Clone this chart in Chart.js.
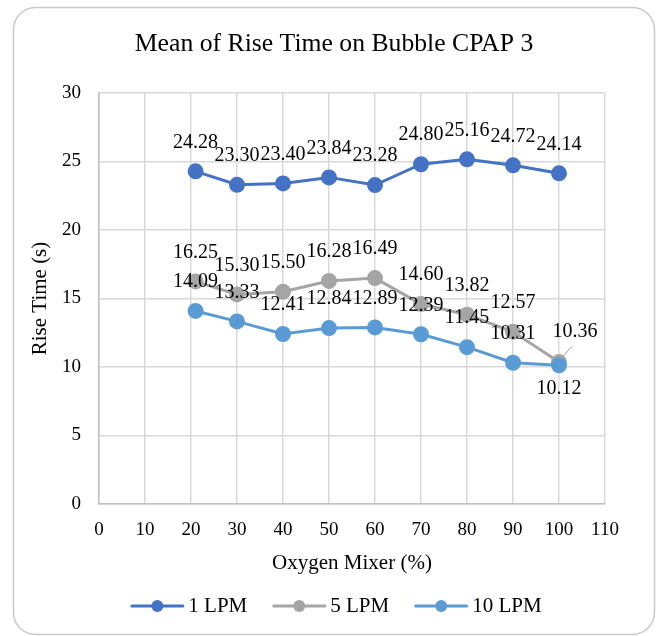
<!DOCTYPE html>
<html>
<head>
<meta charset="utf-8">
<script src="https://cdn.jsdelivr.net/npm/chart.js@4/dist/chart.umd.min.js"></script>
<style>
  html, body { margin: 0; padding: 0; background: #fff; }
  #wrap { width: 659px; height: 636px; }
</style>
</head>
<body>
<div id="wrap"><canvas id="c" width="659" height="636"></canvas></div>
<script>
// ---- data ----
const oxygenMixer = [21, 30, 40, 50, 60, 70, 80, 90, 100];
const lpm1  = [24.28, 23.30, 23.40, 23.84, 23.28, 24.80, 25.16, 24.72, 24.14];
const lpm5  = [16.25, 15.30, 15.50, 16.28, 16.49, 14.60, 13.82, 12.57, 10.36];
const lpm10 = [14.09, 13.33, 12.41, 12.84, 12.89, 12.39, 11.45, 10.31, 10.12];
const seriesNames = ['1 LPM', '5 LPM', '10 LPM'];
const xTicks = [0, 10, 20, 30, 40, 50, 60, 70, 80, 90, 100, 110];
const yTicks = [0, 5, 10, 15, 20, 25, 30];
const chartTitle = 'Mean of Rise Time on Bubble CPAP 3';

// ---- style ----
const colors = ['#4472C4', '#A5A5A5', '#5B9BD5'];
const FONT = "'Liberation Serif', 'Times New Roman', serif";
// special label placements (dataset index -> point index -> placement)
const labelPlacement = { 1: { 8: 'rightUp' }, 2: { 8: 'below' } };

const toXY = (arr) => arr.map((v, i) => ({ x: oxygenMixer[i], y: v }));
const seriesValues = [lpm1, lpm5, lpm10];

const datasets = seriesValues.map((vals, k) => ({
  label: seriesNames[k],
  data: toXY(vals),
  borderColor: colors[k],
  backgroundColor: colors[k],
  pointBackgroundColor: colors[k],
  pointBorderColor: colors[k],
  pointRadius: 6.5,
  pointHoverRadius: 6.5,
  borderWidth: 3,
  tension: 0,
  order: 2 - k
}));

const bgBorder = {
  id: 'bgBorder',
  beforeDraw(chart) {
    const ctx = chart.ctx;
    ctx.save();
    ctx.fillStyle = '#fff';
    ctx.fillRect(0, 0, chart.width, chart.height);
    ctx.strokeStyle = '#c9c9c9';
    ctx.lineWidth = 1.5;
    ctx.beginPath();
    ctx.roundRect(13.5, 7.5, 641, 627, 22);
    ctx.stroke();
    // chart title
    ctx.font = '25.7px ' + FONT;
    ctx.fillStyle = '#000';
    ctx.textAlign = 'center';
    ctx.textBaseline = 'middle';
    ctx.fillText(chartTitle, 334, 44);
    ctx.restore();
  }
};

const dataLabels = {
  id: 'dataLabels',
  afterDatasetsDraw(chart) {
    const ctx = chart.ctx;
    ctx.save();
    ctx.font = '20px ' + FONT;
    ctx.fillStyle = '#000';
    ctx.textAlign = 'center';
    ctx.textBaseline = 'middle';
    chart.data.datasets.forEach((ds, di) => {
      const meta = chart.getDatasetMeta(di);
      meta.data.forEach((pt, pi) => {
        const txt = ds.data[pi].y.toFixed(2);
        const place = (labelPlacement[di] || {})[pi] || 'above';
        let x = pt.x, y = pt.y - 29;
        if (place === 'below') { y = pt.y + 23; }
        if (place === 'rightUp') {
          x = pt.x + 16; y = pt.y - 30;
          ctx.save();
          ctx.strokeStyle = '#A5A5A5';
          ctx.lineWidth = 1;
          ctx.beginPath();
          ctx.moveTo(pt.x + 2, pt.y - 3);
          ctx.lineTo(pt.x + 13, pt.y - 16);
          ctx.stroke();
          ctx.restore();
        }
        ctx.fillText(txt, x, y);
      });
    });
    ctx.restore();
  }
};

// legend drawn below the x axis title, in the space reserved by layout padding
const customLegend = {
  id: 'customLegend',
  afterDraw(chart) {
    const ctx = chart.ctx;
    ctx.save();
    ctx.font = '21px ' + FONT;
    ctx.textBaseline = 'middle';
    ctx.textAlign = 'left';
    const iconW = 54, gapText = 4, gapItem = 25;
    const items = chart.data.datasets.map(ds => ({
      label: ds.label, color: ds.borderColor, w: ctx.measureText(ds.label).width
    }));
    const total = items.reduce((s, it) => s + iconW + gapText + it.w, 0) + gapItem * (items.length - 1);
    let x = 336 - total / 2;
    const y = 606;
    items.forEach(it => {
      ctx.strokeStyle = it.color;
      ctx.lineWidth = 3;
      ctx.lineCap = 'round';
      ctx.beginPath(); ctx.moveTo(x + 1.5, y); ctx.lineTo(x + iconW - 1.5, y); ctx.stroke();
      ctx.fillStyle = it.color;
      ctx.beginPath(); ctx.arc(x + iconW / 2, y, 6, 0, Math.PI * 2); ctx.fill();
      x += iconW + gapText;
      ctx.fillStyle = '#000';
      ctx.fillText(it.label, x, y);
      x += it.w + gapItem;
    });
    ctx.restore();
  }
};

new Chart(document.getElementById('c'), {
  type: 'line',
  data: { datasets },
  options: {
    responsive: false,
    animation: false,
    events: [],
    layout: { padding: { left: 28, right: 54, top: 93, bottom: 60 } },
    plugins: {
      title: { display: false },
      legend: { display: false },
      tooltip: { enabled: false }
    },
    scales: {
      x: {
        type: 'linear',
        min: 0, max: 110,
        afterBuildTicks(s) { s.ticks = xTicks.map(v => ({ value: v })); },
        afterFit(s) { s.height = 72; },
        ticks: { color: '#000', font: { family: FONT, size: 19 }, padding: 15, maxRotation: 0 },
        grid: { color: '#d9d9d9', lineWidth: 1.5, drawTicks: false },
        border: { color: '#bfbfbf', width: 1.5 },
        title: {
          display: true, text: 'Oxygen Mixer (%)', color: '#000',
          font: { family: FONT, size: 21 }, padding: { top: 0, bottom: 0 }
        }
      },
      y: {
        min: 0, max: 30,
        afterBuildTicks(s) { s.ticks = yTicks.map(v => ({ value: v })); },
        afterFit(s) { s.width = 71; },
        ticks: { color: '#000', font: { family: FONT, size: 19 }, padding: 18 },
        grid: { color: '#d9d9d9', lineWidth: 1.5, drawTicks: false },
        border: { color: '#bfbfbf', width: 1.5 },
        title: {
          display: true, text: 'Rise Time (s)', color: '#000',
          font: { family: FONT, size: 21 }, padding: { top: 0, bottom: 0 }
        }
      }
    }
  },
  plugins: [bgBorder, dataLabels, customLegend]
});
</script>
</body>
</html>
